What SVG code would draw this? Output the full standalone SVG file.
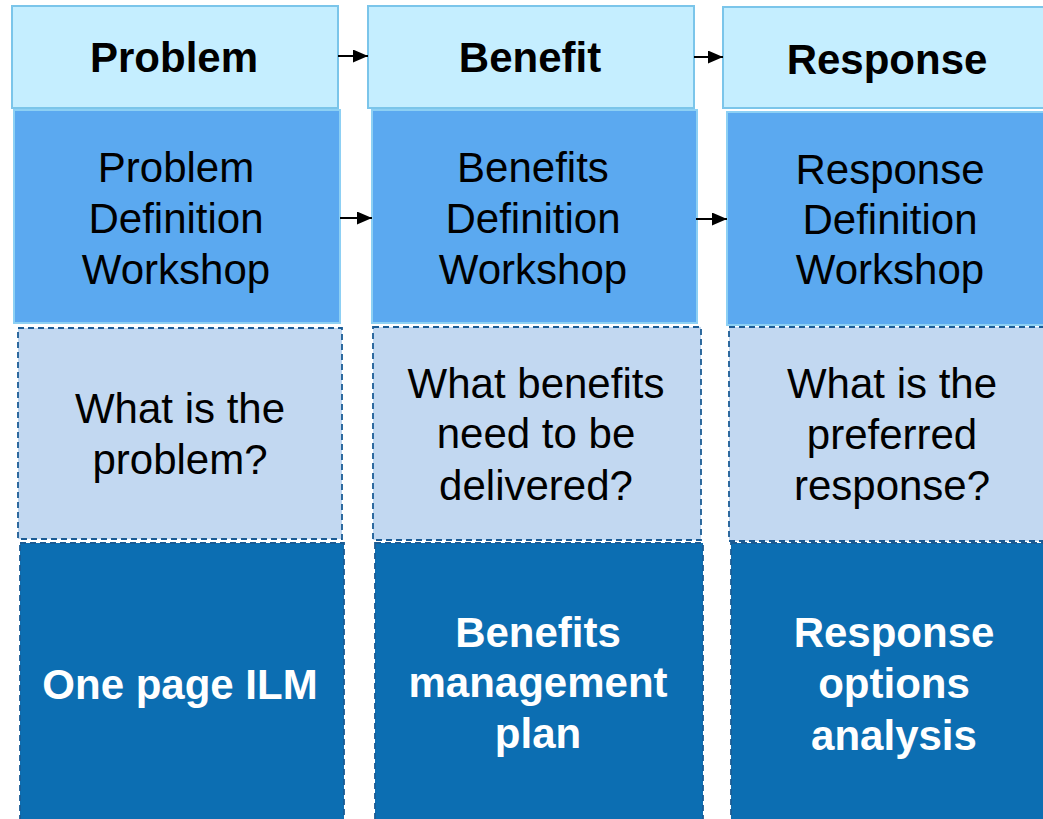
<svg xmlns="http://www.w3.org/2000/svg" width="1043" height="819" viewBox="0 0 1043 819">
<style>
.hdr{fill:#C5EEFF;stroke:#7BC5EA;stroke-width:2}
.wsh{fill:#5BA9F0;stroke:#8DD0F4;stroke-width:2}
.qst{fill:#C2D8F1;stroke:#1B5C95;stroke-width:1.8;stroke-dasharray:6 4}
.out{fill:#0C6EB2;stroke:#1B5C95;stroke-width:1.8;stroke-dasharray:6 4}
text{font-family:"Liberation Sans",Arial,sans-serif;font-size:42px;text-anchor:middle}
.b{font-weight:bold}
.k{fill:#000}
.w{fill:#fff}
.conn line{stroke:#000;stroke-width:2;marker-end:url(#ah)}
</style>
<defs>
<marker id="ah" markerUnits="userSpaceOnUse" markerWidth="16" markerHeight="14" refX="15" refY="6.5" orient="auto">
<path d="M0,0 L15,6.5 L0,13 Z" fill="#000"/>
</marker>
</defs>
<rect width="1043" height="819" fill="#fff"/>
<g id="problem-header"><rect class="hdr" x="12" y="6" width="326" height="102"/><text class="b k" x="174" y="72">Problem</text></g>
<g id="benefit-header"><rect class="hdr" x="368" y="6" width="326" height="102"/><text class="b k" x="530" y="72">Benefit</text></g>
<g id="response-header"><rect class="hdr" x="723" y="7" width="328" height="101"/><text class="b k" x="887" y="74">Response</text></g>

<g id="problem-workshop"><rect class="wsh" x="14" y="110" width="326" height="213"/><text class="k" x="176"><tspan x="176" y="182">Problem</tspan><tspan x="176" y="233">Definition</tspan><tspan x="176" y="284">Workshop</tspan></text></g>
<g id="benefits-workshop"><rect class="wsh" x="372" y="110" width="325" height="213"/><text class="k" x="533"><tspan x="533" y="182">Benefits</tspan><tspan x="533" y="233">Definition</tspan><tspan x="533" y="284">Workshop</tspan></text></g>
<g id="response-workshop"><rect class="wsh" x="727" y="112" width="326" height="213"/><text class="k" x="890"><tspan x="890" y="184">Response</tspan><tspan x="890" y="234">Definition</tspan><tspan x="890" y="284">Workshop</tspan></text></g>

<g id="problem-question"><rect class="qst" x="18" y="328" width="324" height="211"/><text class="k" x="180"><tspan x="180" y="423">What is the</tspan><tspan x="180" y="474">problem?</tspan></text></g>
<g id="benefits-question"><rect class="qst" x="373" y="327" width="328" height="213"/><text class="k" x="536"><tspan x="536" y="398">What benefits</tspan><tspan x="536" y="448">need to be</tspan><tspan x="536" y="500">delivered?</tspan></text></g>
<g id="response-question"><rect class="qst" x="729" y="327" width="326" height="214"/><text class="k" x="892"><tspan x="892" y="398">What is the</tspan><tspan x="892" y="449">preferred</tspan><tspan x="892" y="500">response?</tspan></text></g>

<g id="problem-output"><rect class="out" x="20" y="543" width="324" height="290"/><text class="b w" x="180" y="699">One page ILM</text></g>
<g id="benefits-output"><rect class="out" x="375" y="543" width="328" height="290"/><text class="b w" x="538"><tspan x="538" y="647">Benefits</tspan><tspan x="538" y="697">management</tspan><tspan x="538" y="748">plan</tspan></text></g>
<g id="response-output"><rect class="out" x="731" y="543" width="326" height="290"/><text class="b w" x="894"><tspan x="894" y="647">Response</tspan><tspan x="894" y="698">options</tspan><tspan x="894" y="750">analysis</tspan></text></g>

<g id="connectors" class="conn">
<line x1="338" y1="56" x2="368" y2="56"/>
<line x1="694" y1="57" x2="723" y2="57"/>
<line x1="340" y1="218" x2="372" y2="218"/>
<line x1="696" y1="219" x2="727" y2="219"/>
</g>
</svg>
